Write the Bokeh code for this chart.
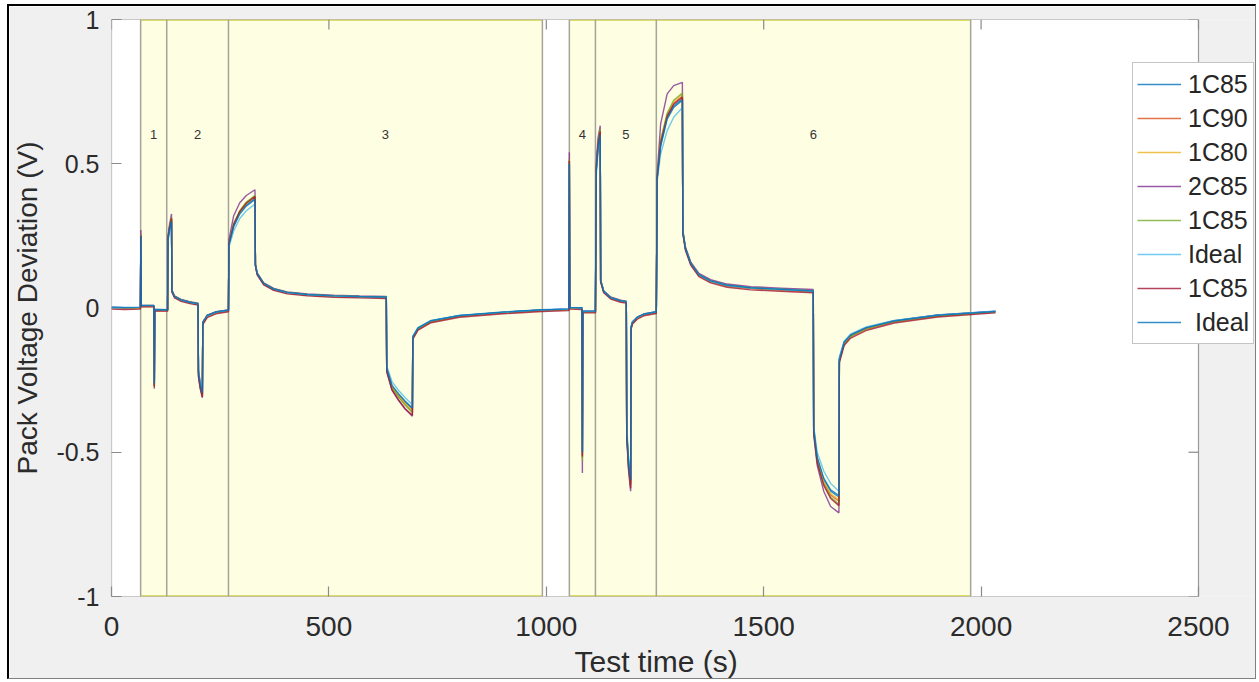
from bokeh.plotting import figure
from bokeh.models import Range1d, FixedTicker, Legend, LegendItem, Title
from bokeh.core.properties import value
from bokeh.embed import file_html
from bokeh.resources import INLINE

# Test time (s) shared by every trace
t_s = [0, 30, 66.5, 67.5, 68.5, 97.5, 98.5, 99.5, 129,
       130, 133, 138, 139, 145, 160, 180, 199,
       200, 204, 209, 210, 220, 240, 269,
       270, 281, 295, 310, 330,
       331, 335, 350, 373, 404, 450, 511, 570, 632,
       633, 645, 660, 675, 692,
       693, 705, 735, 800, 900, 990, 1052,
       1053, 1054, 1082, 1083, 1084, 1113,
       1115, 1119, 1124, 1125, 1132, 1148, 1171, 1184,
       1185, 1189, 1194, 1195, 1198, 1209, 1224, 1253,
       1255, 1263, 1278, 1293, 1313,
       1314, 1320, 1332, 1351, 1378, 1416, 1470, 1539, 1614,
       1615, 1623, 1638, 1654, 1673,
       1674, 1685, 1700, 1735, 1800, 1900, 2033]

# Pack voltage deviation (V) per cell configuration
v_1c85_a = [0.002, 0.001, 0.002, 0.255, 0.008, 0.008, -0.265, -0.006, -0.007,
            0.24, 0.27, 0.305, 0.06, 0.04, 0.028, 0.02, 0.015,
            -0.22, -0.265, -0.298, -0.05, -0.026, -0.014, -0.008,
            0.22, 0.285, 0.33, 0.357, 0.38,
            0.15, 0.12, 0.085, 0.066, 0.054, 0.047, 0.042, 0.04, 0.038,
            -0.21, -0.27, -0.3, -0.325, -0.35,
            -0.1, -0.07, -0.045, -0.027, -0.015, -0.007, -0.004,
            0.5, 0.001, 0.0, -0.5, -0.012, -0.012,
            0.48, 0.56, 0.605, 0.095, 0.058, 0.036, 0.025, 0.022,
            -0.43, -0.53, -0.6, -0.068, -0.05, -0.033, -0.022, -0.014,
            0.45, 0.565, 0.66, 0.7, 0.724,
            0.265, 0.207, 0.156, 0.116, 0.094, 0.079, 0.07, 0.065, 0.059,
            -0.42, -0.52, -0.595, -0.635, -0.655,
            -0.18, -0.12, -0.095, -0.07, -0.045, -0.025, -0.012]

v_1c90 = [0.0, -0.002, -0.001, 0.25, 0.005, 0.005, -0.27, -0.009, -0.01,
          0.245, 0.278, 0.312, 0.058, 0.038, 0.026, 0.018, 0.013,
          -0.228, -0.272, -0.305, -0.055, -0.03, -0.017, -0.01,
          0.225, 0.29, 0.335, 0.365, 0.388,
          0.148, 0.118, 0.083, 0.064, 0.052, 0.045, 0.04, 0.038, 0.036,
          -0.212, -0.274, -0.306, -0.333, -0.36,
          -0.105, -0.074, -0.048, -0.029, -0.017, -0.009, -0.006,
          0.51, -0.001, -0.002, -0.51, -0.014, -0.014,
          0.485, 0.57, 0.615, 0.092, 0.056, 0.034, 0.023, 0.02,
          -0.435, -0.54, -0.612, -0.072, -0.053, -0.036, -0.024, -0.016,
          0.455, 0.575, 0.668, 0.71, 0.735,
          0.262, 0.204, 0.153, 0.113, 0.091, 0.076, 0.067, 0.062, 0.056,
          -0.425, -0.528, -0.605, -0.648, -0.67,
          -0.185, -0.125, -0.099, -0.073, -0.048, -0.028, -0.014]

v_1c80 = [0.001, 0.0, 0.001, 0.26, 0.007, 0.007, -0.275, -0.007, -0.008,
          0.243, 0.275, 0.31, 0.059, 0.039, 0.027, 0.019, 0.014,
          -0.225, -0.27, -0.302, -0.052, -0.028, -0.015, -0.009,
          0.222, 0.288, 0.332, 0.362, 0.385,
          0.149, 0.119, 0.084, 0.065, 0.053, 0.046, 0.041, 0.039, 0.037,
          -0.21, -0.272, -0.303, -0.33, -0.355,
          -0.102, -0.072, -0.046, -0.028, -0.016, -0.008, -0.005,
          0.52, 0.0, -0.001, -0.52, -0.013, -0.013,
          0.487, 0.572, 0.618, 0.094, 0.057, 0.035, 0.024, 0.021,
          -0.433, -0.535, -0.608, -0.07, -0.052, -0.035, -0.023, -0.015,
          0.455, 0.58, 0.672, 0.717, 0.742,
          0.264, 0.206, 0.155, 0.115, 0.093, 0.078, 0.069, 0.064, 0.058,
          -0.423, -0.525, -0.602, -0.643, -0.665,
          -0.182, -0.122, -0.097, -0.071, -0.046, -0.026, -0.013]

v_2c85 = [0.002, 0.001, 0.002, 0.27, 0.009, 0.009, -0.28, -0.005, -0.006,
          0.25, 0.285, 0.326, 0.062, 0.042, 0.03, 0.022, 0.017,
          -0.24, -0.28, -0.311, -0.048, -0.025, -0.013, -0.007,
          0.235, 0.32, 0.365, 0.39, 0.41,
          0.152, 0.122, 0.087, 0.068, 0.056, 0.049, 0.044, 0.042, 0.04,
          -0.22, -0.285, -0.32, -0.35, -0.375,
          -0.1, -0.07, -0.045, -0.027, -0.015, -0.007, -0.004,
          0.54, 0.002, 0.001, -0.572, -0.011, -0.011,
          0.5, 0.59, 0.632, 0.097, 0.06, 0.038, 0.027, 0.024,
          -0.45, -0.56, -0.635, -0.066, -0.048, -0.032, -0.021, -0.013,
          0.465, 0.638, 0.742, 0.771, 0.782,
          0.27, 0.212, 0.16, 0.12, 0.098, 0.083, 0.074, 0.069, 0.064,
          -0.44, -0.545, -0.635, -0.688, -0.71,
          -0.175, -0.118, -0.093, -0.068, -0.044, -0.024, -0.011]

v_1c85_b = [0.001, 0.0, 0.001, 0.255, 0.007, 0.007, -0.27, -0.007, -0.008,
            0.245, 0.278, 0.314, 0.06, 0.04, 0.028, 0.02, 0.015,
            -0.228, -0.273, -0.304, -0.051, -0.027, -0.015, -0.009,
            0.225, 0.292, 0.337, 0.367, 0.39,
            0.15, 0.12, 0.085, 0.066, 0.054, 0.047, 0.042, 0.04, 0.038,
            -0.213, -0.276, -0.308, -0.336, -0.362,
            -0.103, -0.072, -0.046, -0.028, -0.016, -0.008, -0.005,
            0.515, 0.0, -0.001, -0.53, -0.013, -0.013,
            0.488, 0.575, 0.62, 0.095, 0.058, 0.036, 0.025, 0.022,
            -0.436, -0.542, -0.614, -0.07, -0.051, -0.034, -0.023, -0.015,
            0.458, 0.582, 0.675, 0.72, 0.745,
            0.265, 0.207, 0.156, 0.116, 0.094, 0.079, 0.07, 0.065, 0.059,
            -0.428, -0.532, -0.61, -0.655, -0.68,
            -0.183, -0.123, -0.098, -0.072, -0.047, -0.027, -0.013]

v_ideal_a = [0.002, 0.001, 0.002, 0.24, 0.008, 0.008, -0.26, -0.006, -0.007,
             0.23, 0.26, 0.295, 0.058, 0.038, 0.026, 0.018, 0.013,
             -0.215, -0.255, -0.288, -0.052, -0.028, -0.015, -0.008,
             0.21, 0.267, 0.31, 0.337, 0.36,
             0.146, 0.116, 0.082, 0.064, 0.052, 0.045, 0.041, 0.039, 0.037,
             -0.2, -0.255, -0.285, -0.31, -0.335,
             -0.098, -0.068, -0.043, -0.026, -0.015, -0.007, -0.004,
             0.5, 0.001, 0.0, -0.5, -0.012, -0.012,
             0.46, 0.54, 0.585, 0.093, 0.057, 0.035, 0.024, 0.021,
             -0.41, -0.51, -0.585, -0.066, -0.049, -0.033, -0.022, -0.014,
             0.44, 0.534, 0.615, 0.661, 0.695,
             0.26, 0.203, 0.153, 0.114, 0.092, 0.078, 0.069, 0.064, 0.058,
             -0.41, -0.5, -0.565, -0.608, -0.635,
             -0.17, -0.115, -0.09, -0.066, -0.043, -0.024, -0.011]

v_1c85_c = [-0.004, -0.005, -0.004, 0.25, 0.004, 0.004, -0.272, -0.01, -0.011,
            0.242, 0.274, 0.31, 0.055, 0.035, 0.023, 0.015, 0.01,
            -0.235, -0.275, -0.308, -0.058, -0.033, -0.02, -0.013,
            0.222, 0.29, 0.334, 0.363, 0.386,
            0.145, 0.115, 0.08, 0.061, 0.049, 0.042, 0.037, 0.035, 0.033,
            -0.22, -0.283, -0.318, -0.348, -0.372,
            -0.108, -0.077, -0.051, -0.032, -0.02, -0.012, -0.009,
            0.51, -0.004, -0.005, -0.515, -0.017, -0.017,
            0.482, 0.568, 0.612, 0.09, 0.053, 0.031, 0.02, 0.017,
            -0.44, -0.55, -0.625, -0.075, -0.056, -0.039, -0.027, -0.019,
            0.452, 0.572, 0.665, 0.706, 0.73,
            0.258, 0.2, 0.149, 0.109, 0.087, 0.072, 0.063, 0.058, 0.053,
            -0.43, -0.535, -0.615, -0.66, -0.685,
            -0.19, -0.13, -0.104, -0.078, -0.052, -0.031, -0.017]

v_ideal_b = [0.003, 0.002, 0.003, 0.25, 0.009, 0.009, -0.262, -0.005, -0.006,
             0.238, 0.267, 0.3, 0.06, 0.04, 0.028, 0.02, 0.015,
             -0.218, -0.262, -0.294, -0.05, -0.026, -0.014, -0.007,
             0.218, 0.282, 0.326, 0.353, 0.376,
             0.15, 0.12, 0.085, 0.066, 0.054, 0.047, 0.042, 0.04, 0.038,
             -0.208, -0.268, -0.297, -0.322, -0.347,
             -0.099, -0.069, -0.044, -0.026, -0.014, -0.006, -0.003,
             0.5, 0.002, 0.001, -0.5, -0.011, -0.011,
             0.475, 0.555, 0.6, 0.095, 0.058, 0.036, 0.025, 0.022,
             -0.428, -0.527, -0.595, -0.067, -0.049, -0.032, -0.021, -0.013,
             0.448, 0.56, 0.655, 0.695, 0.72,
             0.265, 0.207, 0.156, 0.116, 0.094, 0.079, 0.07, 0.065, 0.059,
             -0.418, -0.517, -0.59, -0.63, -0.65,
             -0.178, -0.119, -0.094, -0.069, -0.045, -0.025, -0.012]

series_labels = ["1C85", "1C90", "1C80", "2C85", "1C85", "Ideal", "1C85", "\u00a0Ideal"]
series_values = [v_1c85_a, v_1c90, v_1c80, v_2c85, v_1c85_b, v_ideal_a, v_1c85_c, v_ideal_b]
series_colors = ["#0072BD", "#D95319", "#EDB120", "#7E2F8E",
                 "#77AC30", "#4DBEEE", "#A2142F", "#0072BD"]

# Test step boundaries (s) and step numbers
step_edges = [67, 127, 269, 991, 1053, 1113, 1253, 1976]
step_names = ["1", "2", "3", "4", "5", "6"]
step_spans = [(67, 127), (127, 269), (269, 991), (1053, 1113), (1113, 1253), (1253, 1976)]
block_left = [67, 1053]
block_right = [991, 1976]

x_lim = (0, 2500)
y_lim = (-1, 1)
x_ticks = [0, 500, 1000, 1500, 2000, 2500]
y_ticks = [-1, -0.5, 0, 0.5, 1]
y_tick_text = {-1: "-1", -0.5: "-0.5", 0: "0", 0.5: "0.5", 1: "1"}

FONT = "Liberation Sans"
TEXT = "#2b2b2b"
FRAME = "#9a9a9a"

# The frame reaches the right edge of the canvas so the legend can sit over
# the axes border; the axes box itself covers x_lim only.
canvas_w, canvas_h = 1249, 675
border_l, border_r, border_t, border_b = 102, 1, 13, 85
axes_w_px = 1087
frame_w = canvas_w - border_l - border_r
frame_h = canvas_h - border_t - border_b
x_end = x_lim[1] * frame_w / axes_w_px
px_x = x_end / frame_w
px_y = (y_lim[1] - y_lim[0]) / frame_h
tick_len = 10

p = figure(width=canvas_w, height=canvas_h,
           x_range=Range1d(0, x_end), y_range=Range1d(*y_lim),
           output_backend="svg", toolbar_location=None,
           min_border_left=border_l, min_border_right=border_r,
           min_border_top=border_t, min_border_bottom=border_b,
           background_fill_color="#f0f0f0", border_fill_color="#f0f0f0")
p.styles = {"margin-left": "7px", "margin-top": "4px",
            "border-left": "2px solid #000000", "border-top": "2px solid #000000",
            "border-right": "1px solid #808080", "border-bottom": "1px solid #808080"}
p.grid.visible = False
p.outline_line_color = None

# axes area
p.quad(left=[x_lim[0]], right=[x_lim[1]], bottom=[y_lim[0]], top=[y_lim[1]],
       fill_color="white", line_color=None)

# shaded test blocks
p.quad(left=block_left, right=block_right, bottom=y_lim[0], top=y_lim[1],
       fill_color="#fefee3", line_color=None)
p.segment(x0=block_left, x1=block_right, y0=[y_lim[1]] * 2, y1=[y_lim[1]] * 2,
          line_color="#dcdc6a", line_width=3)
p.segment(x0=block_left, x1=block_right, y0=[y_lim[0]] * 2, y1=[y_lim[0]] * 2,
          line_color="#dcdc6a", line_width=3)
p.segment(x0=step_edges, x1=step_edges,
          y0=[y_lim[0]] * len(step_edges), y1=[y_lim[1]] * len(step_edges),
          line_color="#a4a49a", line_width=1.5)

p.text(x=[(a + b) / 2 for a, b in step_spans], y=[0.6] * len(step_names), text=step_names,
       text_align="center", text_baseline="middle",
       text_font=value(FONT), text_font_size="13px", text_color="#333333")

items = []
for lab, vals, col in zip(series_labels, series_values, series_colors):
    r = p.line(t_s, vals, line_color=col, line_width=1.4, line_alpha=0.8)
    items.append(LegendItem(label=lab, renderers=[r]))

# axes box with inward ticks on the top and right sides
p.quad(left=[x_lim[0]], right=[x_lim[1]], bottom=[y_lim[0]], top=[y_lim[1]],
       fill_color=None, line_color=FRAME, line_width=1.2)
p.segment(x0=x_ticks, x1=x_ticks, y0=[y_lim[1]] * len(x_ticks),
          y1=[y_lim[1] - tick_len * px_y] * len(x_ticks),
          line_color="#8a8a8a", line_width=1.2)
p.segment(x0=[x_lim[1]] * len(y_ticks), x1=[x_lim[1] - tick_len * px_x] * len(y_ticks),
          y0=y_ticks, y1=y_ticks, line_color="#8a8a8a", line_width=1.2)

for ax in (p.xaxis[0], p.yaxis[0]):
    ax.axis_line_color = None
    ax.major_tick_in = tick_len
    ax.major_tick_out = 0
    ax.minor_tick_line_color = None
    ax.major_tick_line_color = "#8a8a8a"
    ax.major_tick_line_width = 1.2
    ax.major_label_text_font = FONT
    ax.major_label_text_color = TEXT

xa = p.xaxis[0]
xa.ticker = FixedTicker(ticks=x_ticks)
xa.major_label_text_font_size = "28px"
xa.major_label_standoff = 20

ya = p.yaxis[0]
ya.ticker = FixedTicker(ticks=y_ticks)
ya.major_label_overrides = y_tick_text
ya.major_label_text_font_size = "25px"
ya.major_label_standoff = 12
ya.axis_label = "Pack Voltage Deviation (V)"
ya.axis_label_text_font = FONT
ya.axis_label_text_font_size = "28px"
ya.axis_label_text_font_style = "normal"
ya.axis_label_text_color = TEXT
ya.axis_label_standoff = 10

p.add_layout(Title(text="Test time (s)", align="left", offset=463, standoff=8,
                   text_font=FONT, text_font_size="30px", text_font_style="normal",
                   text_color=TEXT), "below")

legend = Legend(items=items, location=(1021, 252),
                border_line_color="#8c8c8c", border_line_width=1,
                background_fill_color="white", background_fill_alpha=1,
                label_text_font=FONT, label_text_font_size="25px", label_text_color="#262626",
                glyph_width=44, glyph_height=34, label_height=34, label_standoff=7,
                padding=4, spacing=0, margin=0)
p.add_layout(legend)

open("out.html", "w").write(file_html(p, INLINE))
